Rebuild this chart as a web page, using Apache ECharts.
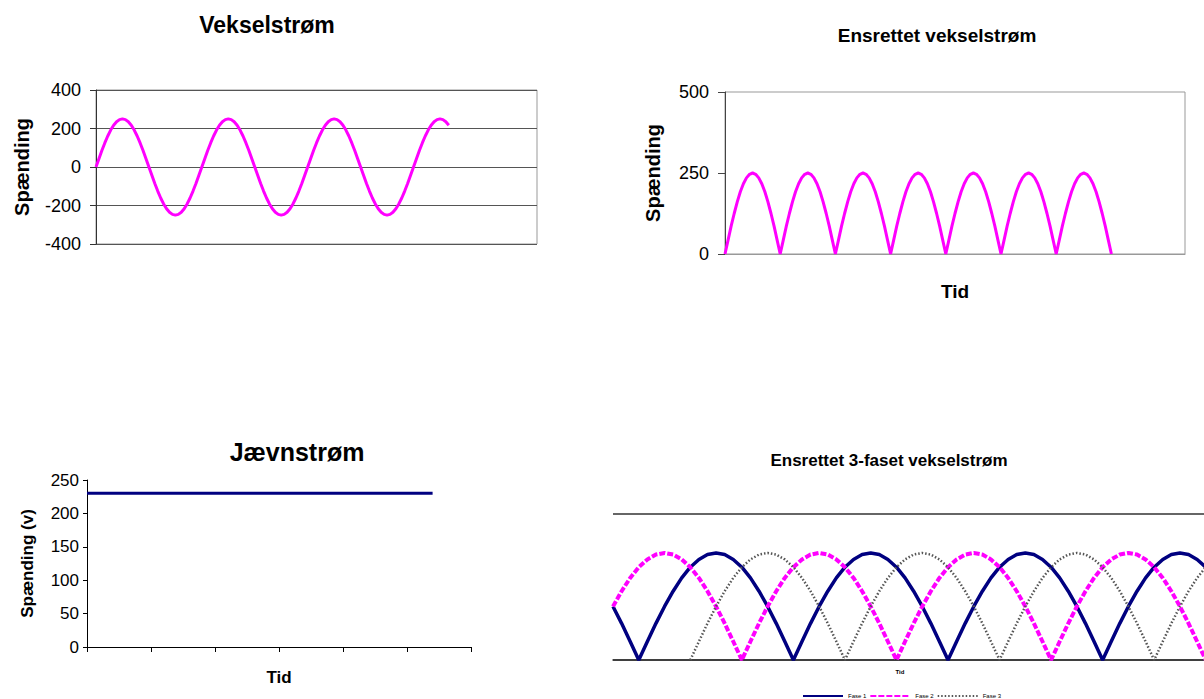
<!DOCTYPE html>
<html>
<head>
<meta charset="utf-8">
<title>Vekselstrøm og jævnstrøm</title>
<script src="https://cdn.jsdelivr.net/npm/echarts/dist/echarts.min.js"></script>
<style>
  html, body { margin: 0; padding: 0; background: #fff; }
  #chart { width: 1204px; height: 699px; }
</style>
</head>
<body>
<div id="chart"></div>
<script>
// Tidsakse: ett målepunkt pr. 10 elektriske grader
const GRADER_PR_PUNKT = 10;

// Vekselstrøm (V), 0–1200 grader
const vekselSpaending = [
  0, 43, 86, 125, 161, 192, 217, 235, 246, 250, 246, 235, 217, 192, 161, 125, 86, 43,
  0, -43, -86, -125, -161, -192, -217, -235, -246, -250, -246, -235, -217, -192, -161, -125, -86, -43,
  0, 43, 86, 125, 161, 192, 217, 235, 246, 250, 246, 235, 217, 192, 161, 125, 86, 43,
  0, -43, -86, -125, -161, -192, -217, -235, -246, -250, -246, -235, -217, -192, -161, -125, -86, -43,
  0, 43, 86, 125, 161, 192, 217, 235, 246, 250, 246, 235, 217, 192, 161, 125, 86, 43,
  0, -43, -86, -125, -161, -192, -217, -235, -246, -250, -246, -235, -217, -192, -161, -125, -86, -43,
  0, 43, 86, 125, 161, 192, 217, 235, 246, 250, 246, 235, 217
];

// Ensrettet vekselstrøm (V), 0–1260 grader
const ensrettetSpaending = [
  0, 43, 86, 125, 161, 192, 217, 235, 246, 250, 246, 235, 217, 192, 161, 125, 86, 43,
  0, 43, 86, 125, 161, 192, 217, 235, 246, 250, 246, 235, 217, 192, 161, 125, 86, 43,
  0, 43, 86, 125, 161, 192, 217, 235, 246, 250, 246, 235, 217, 192, 161, 125, 86, 43,
  0, 43, 86, 125, 161, 192, 217, 235, 246, 250, 246, 235, 217, 192, 161, 125, 86, 43,
  0, 43, 86, 125, 161, 192, 217, 235, 246, 250, 246, 235, 217, 192, 161, 125, 86, 43,
  0, 43, 86, 125, 161, 192, 217, 235, 246, 250, 246, 235, 217, 192, 161, 125, 86, 43,
  0, 43, 86, 125, 161, 192, 217, 235, 246, 250, 246, 235, 217, 192, 161, 125, 86, 43,
  0
];

// Jævnstrøm (V), en måling pr. tidsenhed
const jaevnSpaending = [
  230, 230, 230, 230, 230, 230, 230, 230, 230, 230, 230,
  230, 230, 230, 230, 230, 230, 230, 230, 230, 230, 230,
  230, 230, 230, 230, 230, 230, 230, 230, 230, 230, 230,
  230, 230, 230, 230, 230, 230, 230, 230, 230, 230, 230,
  230, 230, 230, 230, 230, 230, 230, 230, 230, 230, 230
];

// Ensrettet 3-faset vekselstrøm (V), 0–720 grader
const fase1 = [
  165, 113, 57,
  0, 57, 113, 165, 212, 253, 286, 310, 325, 330, 325, 310, 286, 253, 212, 165, 113, 57,
  0, 57, 113, 165, 212, 253, 286, 310, 325, 330, 325, 310, 286, 253, 212, 165, 113, 57,
  0, 57, 113, 165, 212, 253, 286, 310, 325, 330, 325, 310, 286, 253, 212, 165, 113, 57,
  0, 57, 113, 165, 212, 253, 286, 310, 325, 330, 325, 310, 286, 253, 212, 165
];
const fase2 = [
  165, 212, 253, 286, 310, 325, 330, 325, 310, 286, 253, 212, 165, 113, 57,
  0, 57, 113, 165, 212, 253, 286, 310, 325, 330, 325, 310, 286, 253, 212, 165, 113, 57,
  0, 57, 113, 165, 212, 253, 286, 310, 325, 330, 325, 310, 286, 253, 212, 165, 113, 57,
  0, 57, 113, 165, 212, 253, 286, 310, 325, 330, 325, 310, 286, 253, 212, 165, 113, 57,
  0, 57, 113, 165
];
const fase3 = [
  null, null, null, null, null, null, null, null, null,
  0, 57, 113, 165, 212, 253, 286, 310, 325, 330, 325, 310, 286, 253, 212, 165, 113, 57,
  0, 57, 113, 165, 212, 253, 286, 310, 325, 330, 325, 310, 286, 253, 212, 165, 113, 57,
  0, 57, 113, 165, 212, 253, 286, 310, 325, 330, 325, 310, 286, 253, 212, 165, 113, 57,
  0, 57, 113, 165, 212, 253, 286, 310, 325, 330
];

const faseNavne = ['Fase 1', 'Fase 2', 'Fase 3'];

const FONT = '"Liberation Sans", Arial, sans-serif';

// [tid, spænding]-par ud fra målepunkternes nummer
function medTid(values, step) {
  return values.map((v, i) => [i * step, v]);
}

function hiddenX(gridIndex, max) {
  return {
    type: 'value', gridIndex, min: 0, max,
    axisLine: { show: false }, axisTick: { show: false },
    axisLabel: { show: false }, splitLine: { show: false }
  };
}

function titleText(text, x, y, size) {
  return {
    type: 'text', x, y,
    style: {
      text, font: 'bold ' + size + 'px ' + FONT, fill: '#000',
      align: 'center', verticalAlign: 'middle',
      textAlign: 'center', textVerticalAlign: 'middle'
    }
  };
}

const chart = echarts.init(document.getElementById('chart'), null, { renderer: 'svg' });

const option = {
  animation: false,
  backgroundColor: '#fff',
  textStyle: { fontFamily: FONT },
  grid: [
    { left: 96, top: 90, width: 441, height: 154, show: true, borderColor: '#999', borderWidth: 1 },
    { left: 725, top: 92, width: 460, height: 162, show: true, borderColor: '#999', borderWidth: 1 },
    { left: 87, top: 480, width: 384, height: 167 },
    // the 3-phase plot runs on past the right edge of the page
    { left: 613, top: 514, right: 0, height: 146 }
  ],
  xAxis: [
    hiddenX(0, 1500),
    Object.assign(hiddenX(1, 1500), {
      name: 'Tid', nameLocation: 'middle', nameGap: 28,
      nameTextStyle: { fontFamily: FONT, fontWeight: 'bold', fontSize: 19, color: '#000' },
      axisLine: { show: true, lineStyle: { color: '#999', width: 1 } }
    }),
    {
      type: 'value', gridIndex: 2, min: 0, max: 60, interval: 10,
      name: 'Tid', nameLocation: 'middle', nameGap: 22,
      nameTextStyle: { fontFamily: FONT, fontWeight: 'bold', fontSize: 17, color: '#000' },
      axisLine: { show: true, lineStyle: { color: '#000', width: 1 } },
      axisTick: { show: true, length: 5, lineStyle: { color: '#000' } },
      axisLabel: { show: false }, splitLine: { show: false }
    },
    Object.assign(hiddenX(3, 688), {
      axisLine: { show: true, lineStyle: { color: '#333', width: 1.5 } }
    })
  ],
  yAxis: [
    {
      type: 'value', gridIndex: 0, min: -400, max: 400, interval: 200,
      name: 'Spænding', nameLocation: 'middle', nameRotate: 90, nameGap: 64,
      nameTextStyle: { fontFamily: FONT, fontWeight: 'bold', fontSize: 20, color: '#000' },
      axisLine: { show: true, lineStyle: { color: '#333', width: 1 } },
      axisTick: { show: true, length: 6, lineStyle: { color: '#333' } },
      axisLabel: { fontFamily: FONT, fontSize: 18, color: '#000', margin: 15 },
      splitLine: { show: true, lineStyle: { color: '#555', width: 1 } }
    },
    {
      type: 'value', gridIndex: 1, min: 0, max: 500, interval: 250,
      name: 'Spænding', nameLocation: 'middle', nameRotate: 90, nameGap: 62,
      nameTextStyle: { fontFamily: FONT, fontWeight: 'bold', fontSize: 20, color: '#000' },
      axisLine: { show: true, lineStyle: { color: '#444', width: 1 } },
      axisTick: { show: true, length: 7, lineStyle: { color: '#444' } },
      axisLabel: { fontFamily: FONT, fontSize: 18, color: '#000', margin: 16 },
      splitLine: { show: false }
    },
    {
      type: 'value', gridIndex: 2, min: 0, max: 250, interval: 50,
      name: 'Spænding (v)', nameLocation: 'middle', nameRotate: 90, nameGap: 51,
      nameTextStyle: { fontFamily: FONT, fontWeight: 'bold', fontSize: 17, color: '#000' },
      axisLine: { show: true, lineStyle: { color: '#000', width: 1 } },
      axisTick: { show: true, length: 4, lineStyle: { color: '#000' } },
      axisLabel: { fontFamily: FONT, fontSize: 17, color: '#000', margin: 8 },
      splitLine: { show: false }
    },
    {
      type: 'value', gridIndex: 3, min: 0, max: 450, interval: 450,
      axisLine: { show: false }, axisTick: { show: false }, axisLabel: { show: false },
      splitLine: { show: true, lineStyle: { color: '#333', width: 1.5 } }
    }
  ],
  legend: {
    data: faseNavne,
    left: 797, top: 688,
    itemWidth: 40, itemHeight: 5, itemGap: 3,
    // line samples only, no point marker in the middle
    itemStyle: { opacity: 0, borderWidth: 0 },
    textStyle: { fontFamily: FONT, fontSize: 6, color: '#000' }
  },
  graphic: [
    titleText('Vekselstrøm', 267, 25, 23),
    titleText('Ensrettet vekselstrøm', 937, 35, 19),
    titleText('Jævnstrøm', 297, 452, 25),
    titleText('Ensrettet 3-faset vekselstrøm', 889, 460, 17),
    titleText('Tid', 900, 672, 6)
  ],
  series: [
    {
      type: 'line', name: 'Vekselstrøm', xAxisIndex: 0, yAxisIndex: 0,
      data: medTid(vekselSpaending, GRADER_PR_PUNKT),
      symbol: 'none', lineStyle: { color: '#FF00FF', width: 3 }
    },
    {
      type: 'line', name: 'Ensrettet vekselstrøm', xAxisIndex: 1, yAxisIndex: 1,
      data: medTid(ensrettetSpaending, GRADER_PR_PUNKT),
      symbol: 'none', lineStyle: { color: '#FF00FF', width: 3 }
    },
    {
      type: 'line', name: 'Jævnstrøm', xAxisIndex: 2, yAxisIndex: 2,
      data: medTid(jaevnSpaending, 1),
      symbol: 'none', lineStyle: { color: '#000080', width: 3 }
    },
    {
      type: 'line', name: faseNavne[0], xAxisIndex: 3, yAxisIndex: 3,
      data: medTid(fase1, GRADER_PR_PUNKT),
      symbol: 'none', itemStyle: { color: '#000080' },
      lineStyle: { color: '#000080', width: 3.5 }
    },
    {
      type: 'line', name: faseNavne[1], xAxisIndex: 3, yAxisIndex: 3,
      data: medTid(fase2, GRADER_PR_PUNKT),
      symbol: 'none', itemStyle: { color: '#FF00FF' },
      lineStyle: { color: '#FF00FF', width: 4, type: [6, 2] }
    },
    {
      type: 'line', name: faseNavne[2], xAxisIndex: 3, yAxisIndex: 3,
      data: medTid(fase3, GRADER_PR_PUNKT),
      symbol: 'none', itemStyle: { color: '#555' },
      lineStyle: { color: '#555', width: 2.5, type: [1.5, 2] }
    }
  ]
};

chart.setOption(option);
</script>
</body>
</html>
